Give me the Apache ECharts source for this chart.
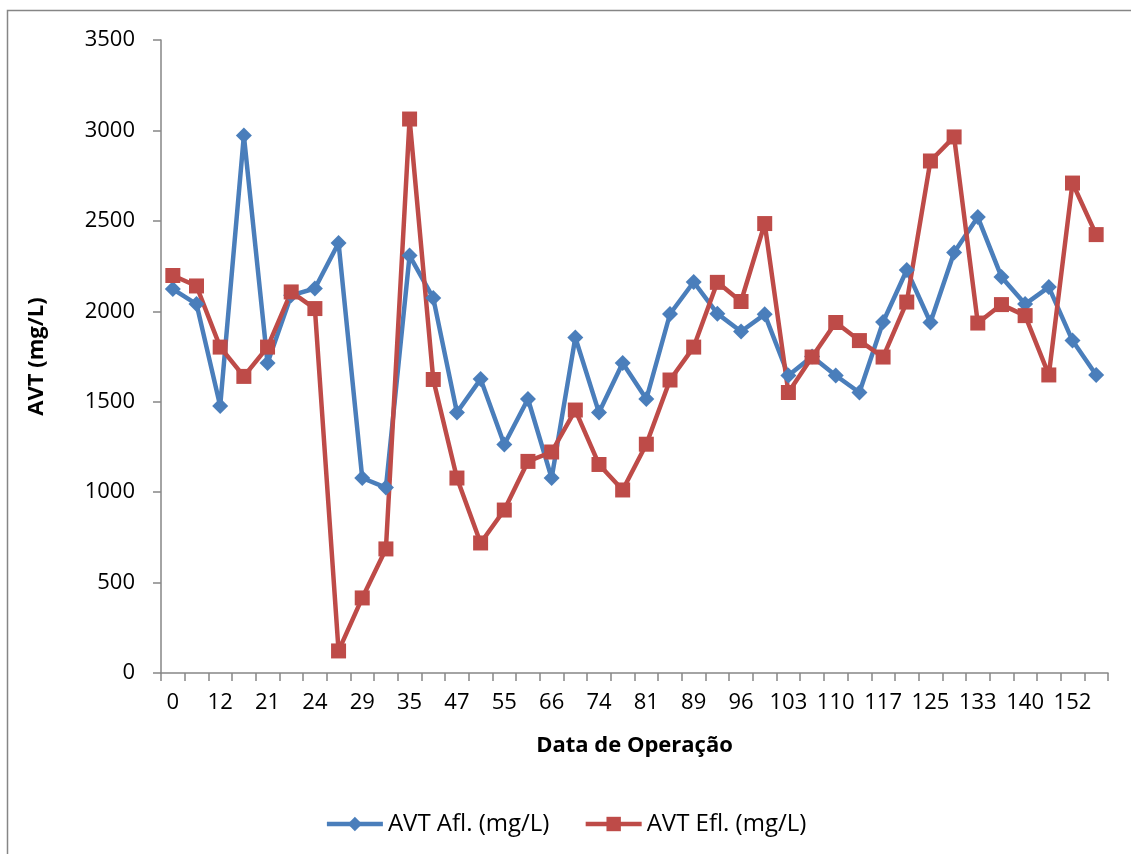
<!DOCTYPE html>
<html>
<head>
<meta charset="utf-8">
<style>
    html, body { margin: 0; padding: 0; background: #ffffff; }
    /* área do gráfico */
    #chart { width: 1131px; height: 854px; }
</style>
<script src="https://cdn.jsdelivr.net/npm/echarts@6/dist/echarts.min.js"></script>
</head>
<body>
<div id="chart"></div>
<script>
    // dias de operação (só os pares aparecem no eixo)
    var dias = ['0', '7', '12', '17', '21', '22', '24', '26', '29', '32',
        '35', '42', '47', '50', '55', '61', '66', '70', '74', '77',
        '81', '84', '89', '92', '96', '99', '103', '106', '110', '113',
        '117', '120', '125', '129', '133', '136', '140', '145', '152', '159'];
    var avtAfl = [2123, 2040, 1476, 2972, 1714, 2088, 2126, 2378, 1078, 1025,
        2308, 2073, 1440, 1625, 1263, 1515, 1078, 1855, 1440, 1714,
        1515, 1985, 2162, 1987, 1888, 1983, 1645, 1750, 1645, 1551,
        1941, 2228, 1938, 2325, 2521, 2190, 2040, 2134, 1838, 1648];
    var avtEfl = [2198, 2140, 1802, 1640, 1802, 2107, 2015, 122, 415, 686,
        3063, 1623, 1078, 719, 901, 1170, 1222, 1454, 1153, 1012,
        1265, 1620, 1802, 2160, 2054, 2485, 1551, 1747, 1938, 1838,
        1747, 2051, 2831, 2964, 1935, 2037, 1976, 1648, 2709, 2424];
    var yTicks = [0, 500, 1000, 1500, 2000, 2500, 3000, 3500];

    var myChart = echarts.init(document.getElementById('chart'));
    var fonte = '"Open Sans", "Noto Sans", sans-serif';
    var cinza = '#868686';

    var option = {
        backgroundColor: '#ffffff',
        textStyle: { fontFamily: fonte, color: '#000000' },
        graphic: [{
            type: 'rect',
            shape: { x: 7.5, y: 10.5, width: 1300, height: 1000 },
            style: { fill: 'none', stroke: cinza, lineWidth: 1.5 },
            silent: true
        }],
        legend: {
            data: ['AVT Afl. (mg/L)', 'AVT Efl. (mg/L)'],
            left: 'center',
            top: 807,
            itemWidth: 56,
            itemHeight: 18,
            itemGap: 34,
            lineStyle: { width: 4.5 },
            textStyle: { fontSize: 24, fontFamily: fonte, color: '#000000' }
        },
        grid: {
            left: 161,
            top: 40,
            width: 947,
            height: 633
        },
        xAxis: {
            type: 'category',
            data: dias,
            boundaryGap: true,
            name: 'Data de Operação',
            nameLocation: 'middle',
            nameGap: 62,
            nameTextStyle: { fontSize: 22, fontWeight: 'bold', fontFamily: fonte, color: '#000000' },
            axisLine: { lineStyle: { color: cinza, width: 1.5 } },
            axisTick: { show: true, interval: 0, length: 8, lineStyle: { color: cinza, width: 1.5 } },
            axisLabel: { interval: 1, fontSize: 22, margin: 19, color: '#000000', fontFamily: fonte },
            splitLine: { show: false }
        },
        yAxis: {
            type: 'value',
            min: yTicks[0],
            max: yTicks[yTicks.length - 1],
            interval: 500,
            name: 'AVT (mg/L)',
            nameLocation: 'middle',
            nameRotate: 90,
            nameGap: 113,
            nameTextStyle: { fontSize: 22, fontWeight: 'bold', fontFamily: fonte, color: '#000000' },
            axisLine: { show: true, lineStyle: { color: cinza, width: 1.5 } },
            axisTick: { show: true, length: 8, lineStyle: { color: cinza, width: 1.5 } },
            axisLabel: {
                fontSize: 22, margin: 26, color: '#000000', fontFamily: fonte,
                formatter: function (v) { return String(v); }
            },
            splitLine: { show: false }
        },
        series: [{
            name: 'AVT Afl. (mg/L)',
            type: 'line',
            data: avtAfl,
            symbol: 'diamond',
            symbolSize: 16,
            showAllSymbol: true,
            lineStyle: { color: '#4a7ebb', width: 4.5 },
            itemStyle: { color: '#4a7ebb' }
        }, {
            name: 'AVT Efl. (mg/L)',
            type: 'line',
            data: avtEfl,
            symbol: 'rect',
            symbolSize: 15,
            showAllSymbol: true,
            lineStyle: { color: '#be4b48', width: 4.5 },
            itemStyle: { color: '#be4b48' }
        }],
        animation: false
    };
    myChart.setOption(option);
</script>
</body>
</html>
